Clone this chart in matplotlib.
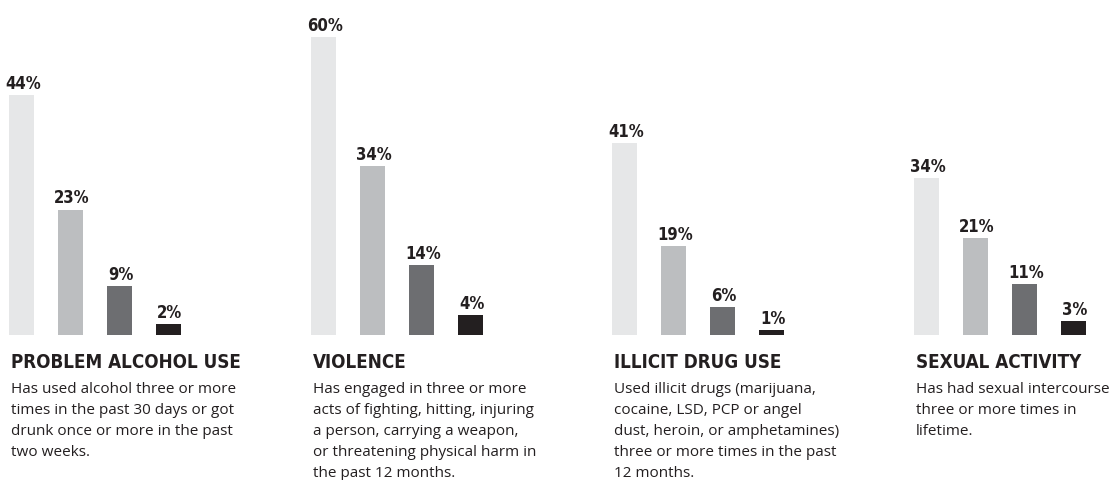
import matplotlib
matplotlib.use("Agg")
import matplotlib.pyplot as plt

# values
groups = ["PROBLEM ALCOHOL USE", "VIOLENCE", "ILLICIT DRUG USE", "SEXUAL ACTIVITY"]
alcohol = [44, 23, 9, 2]
violence = [60, 34, 14, 4]
drugs = [41, 19, 6, 1]
sexual = [34, 21, 11, 3]
notes = [
    "Has used alcohol three or more\ntimes in the past 30 days or got\ndrunk once or more in the past\ntwo weeks.",
    "Has engaged in three or more\nacts of fighting, hitting, injuring\na person, carrying a weapon,\nor threatening physical harm in\nthe past 12 months.",
    "Used illicit drugs (marijuana,\ncocaine, LSD, PCP or angel\ndust, heroin, or amphetamines)\nthree or more times in the past\n12 months.",
    "Has had sexual intercourse\nthree or more times in\nlifetime.",
]
series = [alcohol, violence, drugs, sexual]

colors = ["#e6e7e8", "#bcbec0", "#6d6e71", "#231f20"]
# the original is not drawn to a common scale, so each panel gets its own
ymax = [61.4, 67.4, 71.6, 72.5]
left_px = [9, 311, 612, 914]

W, H = 1114, 480
base_px = 335
cond = ["DejaVu Sans"]
body = ["Open Sans", "DejaVu Sans"]

fig = plt.figure(figsize=(W / 100, H / 100), dpi=100)

for i in range(4):
    ax = fig.add_axes([left_px[i] / W, (H - base_px) / H, 172 / W, base_px / H])
    xs = range(len(series[i]))
    bars = ax.bar(xs, series[i], width=0.51, color=colors)
    ax.set_xlim(-0.255, 3.255)
    ax.set_ylim(0, ymax[i])
    ax.axis("off")
    for b, v in zip(bars, series[i]):
        ax.annotate(f"{v}%", (b.get_x() + b.get_width() / 2, v),
                    xytext=(1, 1.5), textcoords="offset points",
                    ha="center", va="bottom", fontsize=12,
                    fontweight="bold", family=cond, fontstretch="condensed",
                    color="#231f20", annotation_clip=False)
    ax.annotate(groups[i], (0, 0), xycoords="axes fraction",
                xytext=(1.5, -13), textcoords="offset points",
                ha="left", va="top", fontsize=13.5, fontweight="bold",
                family=cond, fontstretch="condensed", color="#231f20",
                annotation_clip=False)
    ax.annotate(notes[i], (0, 0), xycoords="axes fraction",
                xytext=(1.5, -33.5), textcoords="offset points",
                ha="left", va="top", fontsize=11, family=body,
                color="#231f20", linespacing=1.56, annotation_clip=False)

fig.savefig("out.png", dpi=100, facecolor="white")
